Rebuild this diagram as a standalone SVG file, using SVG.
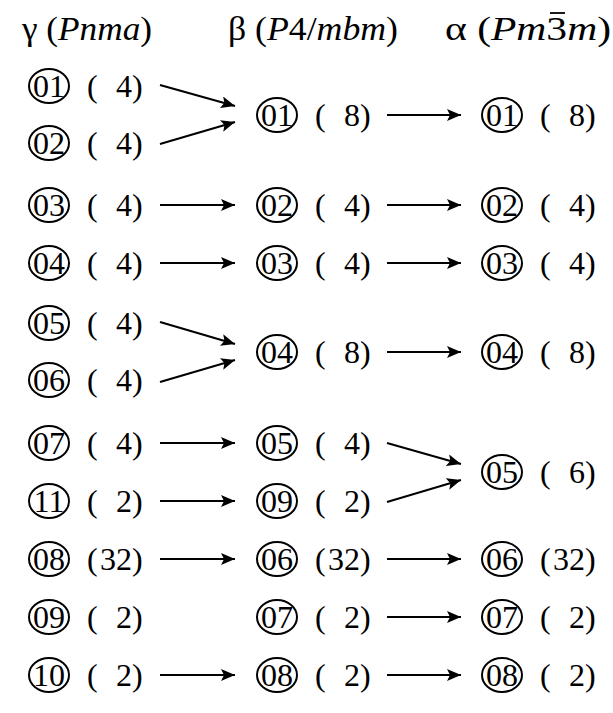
<svg xmlns="http://www.w3.org/2000/svg" width="613" height="713" viewBox="0 0 613 713">
<defs>
<marker id="ah" markerUnits="userSpaceOnUse" markerWidth="16" markerHeight="12" refX="14" refY="6" orient="auto">
<path d="M0,0 L14,6 L0,12 L3,6 Z" fill="#000"/>
</marker>
<style>
text{font-family:'Liberation Serif','Times New Roman',serif;font-size:32px;fill:#000}
.h{font-size:34px}
.n{text-anchor:middle}
.e{text-anchor:end}
ellipse{fill:none;stroke:#000;stroke-width:2}
.a{stroke:#000;stroke-width:2;fill:none;marker-end:url(#ah)}
.i{font-style:italic}
</style>
</defs>
<g id="headers">
<text class="h" x="22" y="40" textLength="130" lengthAdjust="spacingAndGlyphs">γ (<tspan class="i">Pnma</tspan>)</text>
<text class="h" x="228" y="40" textLength="170" lengthAdjust="spacingAndGlyphs">β (<tspan class="i">P</tspan>4/<tspan class="i">mbm</tspan>)</text>
<text class="h" x="445" y="40" textLength="166" lengthAdjust="spacingAndGlyphs">α (<tspan class="i">Pm</tspan>3<tspan class="i">m</tspan>)</text>
<line x1="550" y1="13" x2="565" y2="13" stroke="#000" stroke-width="1.8"/>
</g>
<g id="g01"><ellipse cx="49" cy="86" rx="20" ry="17"/><text class="n" x="49" y="97">01</text><text x="87" y="97">(</text><text class="e" x="132" y="97">4</text><text x="132" y="97">)</text></g>
<g id="g02"><ellipse cx="49" cy="143" rx="20" ry="17"/><text class="n" x="49" y="154">02</text><text x="87" y="154">(</text><text class="e" x="132" y="154">4</text><text x="132" y="154">)</text></g>
<g id="g03"><ellipse cx="49" cy="205" rx="20" ry="17"/><text class="n" x="49" y="216">03</text><text x="87" y="216">(</text><text class="e" x="132" y="216">4</text><text x="132" y="216">)</text></g>
<g id="g04"><ellipse cx="49" cy="263" rx="20" ry="17"/><text class="n" x="49" y="274">04</text><text x="87" y="274">(</text><text class="e" x="132" y="274">4</text><text x="132" y="274">)</text></g>
<g id="g05"><ellipse cx="49" cy="323" rx="20" ry="17"/><text class="n" x="49" y="334">05</text><text x="87" y="334">(</text><text class="e" x="132" y="334">4</text><text x="132" y="334">)</text></g>
<g id="g06"><ellipse cx="49" cy="380" rx="20" ry="17"/><text class="n" x="49" y="391">06</text><text x="87" y="391">(</text><text class="e" x="132" y="391">4</text><text x="132" y="391">)</text></g>
<g id="g07"><ellipse cx="49" cy="443" rx="20" ry="17"/><text class="n" x="49" y="454">07</text><text x="87" y="454">(</text><text class="e" x="132" y="454">4</text><text x="132" y="454">)</text></g>
<g id="g11"><ellipse cx="49" cy="501" rx="20" ry="17"/><text class="n" x="49" y="512">11</text><text x="87" y="512">(</text><text class="e" x="132" y="512">2</text><text x="132" y="512">)</text></g>
<g id="g08"><ellipse cx="49" cy="559" rx="20" ry="17"/><text class="n" x="49" y="570">08</text><text x="87" y="570">(</text><text class="e" x="132" y="570">32</text><text x="132" y="570">)</text></g>
<g id="g09"><ellipse cx="49" cy="617" rx="20" ry="17"/><text class="n" x="49" y="628">09</text><text x="87" y="628">(</text><text class="e" x="132" y="628">2</text><text x="132" y="628">)</text></g>
<g id="g10"><ellipse cx="49" cy="675" rx="20" ry="17"/><text class="n" x="49" y="686">10</text><text x="87" y="686">(</text><text class="e" x="132" y="686">2</text><text x="132" y="686">)</text></g>

<g id="b01"><ellipse cx="277" cy="115" rx="20" ry="17"/><text class="n" x="277" y="126">01</text><text x="315" y="126">(</text><text class="e" x="360" y="126">8</text><text x="360" y="126">)</text></g>
<g id="b02"><ellipse cx="277" cy="205" rx="20" ry="17"/><text class="n" x="277" y="216">02</text><text x="315" y="216">(</text><text class="e" x="360" y="216">4</text><text x="360" y="216">)</text></g>
<g id="b03"><ellipse cx="277" cy="263" rx="20" ry="17"/><text class="n" x="277" y="274">03</text><text x="315" y="274">(</text><text class="e" x="360" y="274">4</text><text x="360" y="274">)</text></g>
<g id="b04"><ellipse cx="277" cy="352" rx="20" ry="17"/><text class="n" x="277" y="363">04</text><text x="315" y="363">(</text><text class="e" x="360" y="363">8</text><text x="360" y="363">)</text></g>
<g id="b05"><ellipse cx="277" cy="443" rx="20" ry="17"/><text class="n" x="277" y="454">05</text><text x="315" y="454">(</text><text class="e" x="360" y="454">4</text><text x="360" y="454">)</text></g>
<g id="b09"><ellipse cx="277" cy="501" rx="20" ry="17"/><text class="n" x="277" y="512">09</text><text x="315" y="512">(</text><text class="e" x="360" y="512">2</text><text x="360" y="512">)</text></g>
<g id="b06"><ellipse cx="277" cy="559" rx="20" ry="17"/><text class="n" x="277" y="570">06</text><text x="315" y="570">(</text><text class="e" x="360" y="570">32</text><text x="360" y="570">)</text></g>
<g id="b07"><ellipse cx="277" cy="617" rx="20" ry="17"/><text class="n" x="277" y="628">07</text><text x="315" y="628">(</text><text class="e" x="360" y="628">2</text><text x="360" y="628">)</text></g>
<g id="b08"><ellipse cx="277" cy="675" rx="20" ry="17"/><text class="n" x="277" y="686">08</text><text x="315" y="686">(</text><text class="e" x="360" y="686">2</text><text x="360" y="686">)</text></g>

<g id="a01"><ellipse cx="502" cy="115" rx="20" ry="17"/><text class="n" x="502" y="126">01</text><text x="540" y="126">(</text><text class="e" x="585" y="126">8</text><text x="585" y="126">)</text></g>
<g id="a02"><ellipse cx="502" cy="205" rx="20" ry="17"/><text class="n" x="502" y="216">02</text><text x="540" y="216">(</text><text class="e" x="585" y="216">4</text><text x="585" y="216">)</text></g>
<g id="a03"><ellipse cx="502" cy="263" rx="20" ry="17"/><text class="n" x="502" y="274">03</text><text x="540" y="274">(</text><text class="e" x="585" y="274">4</text><text x="585" y="274">)</text></g>
<g id="a04"><ellipse cx="502" cy="352" rx="20" ry="17"/><text class="n" x="502" y="363">04</text><text x="540" y="363">(</text><text class="e" x="585" y="363">8</text><text x="585" y="363">)</text></g>
<g id="a05"><ellipse cx="502" cy="472" rx="20" ry="17"/><text class="n" x="502" y="483">05</text><text x="540" y="483">(</text><text class="e" x="585" y="483">6</text><text x="585" y="483">)</text></g>
<g id="a06"><ellipse cx="502" cy="559" rx="20" ry="17"/><text class="n" x="502" y="570">06</text><text x="540" y="570">(</text><text class="e" x="585" y="570">32</text><text x="585" y="570">)</text></g>
<g id="a07"><ellipse cx="502" cy="617" rx="20" ry="17"/><text class="n" x="502" y="628">07</text><text x="540" y="628">(</text><text class="e" x="585" y="628">2</text><text x="585" y="628">)</text></g>
<g id="a08"><ellipse cx="502" cy="675" rx="20" ry="17"/><text class="n" x="502" y="686">08</text><text x="540" y="686">(</text><text class="e" x="585" y="686">2</text><text x="585" y="686">)</text></g>

<g id="connectors">
<line class="a" x1="160" y1="85" x2="235" y2="106"/>
<line class="a" x1="160" y1="144" x2="235" y2="122"/>
<line class="a" x1="387" y1="115" x2="461" y2="115"/>
<line class="a" x1="160" y1="205" x2="235" y2="205"/>
<line class="a" x1="387" y1="205" x2="461" y2="205"/>
<line class="a" x1="160" y1="263" x2="235" y2="263"/>
<line class="a" x1="387" y1="263" x2="461" y2="263"/>
<line class="a" x1="160" y1="322" x2="235" y2="344"/>
<line class="a" x1="160" y1="382" x2="235" y2="360"/>
<line class="a" x1="387" y1="352" x2="461" y2="352"/>
<line class="a" x1="160" y1="443" x2="235" y2="443"/>
<line class="a" x1="160" y1="501" x2="235" y2="501"/>
<line class="a" x1="387" y1="443" x2="461" y2="464"/>
<line class="a" x1="387" y1="502" x2="461" y2="480"/>
<line class="a" x1="160" y1="559" x2="235" y2="559"/>
<line class="a" x1="387" y1="559" x2="461" y2="559"/>
<line class="a" x1="387" y1="617" x2="461" y2="617"/>
<line class="a" x1="160" y1="675" x2="235" y2="675"/>
<line class="a" x1="387" y1="675" x2="461" y2="675"/>
</g>
</svg>
